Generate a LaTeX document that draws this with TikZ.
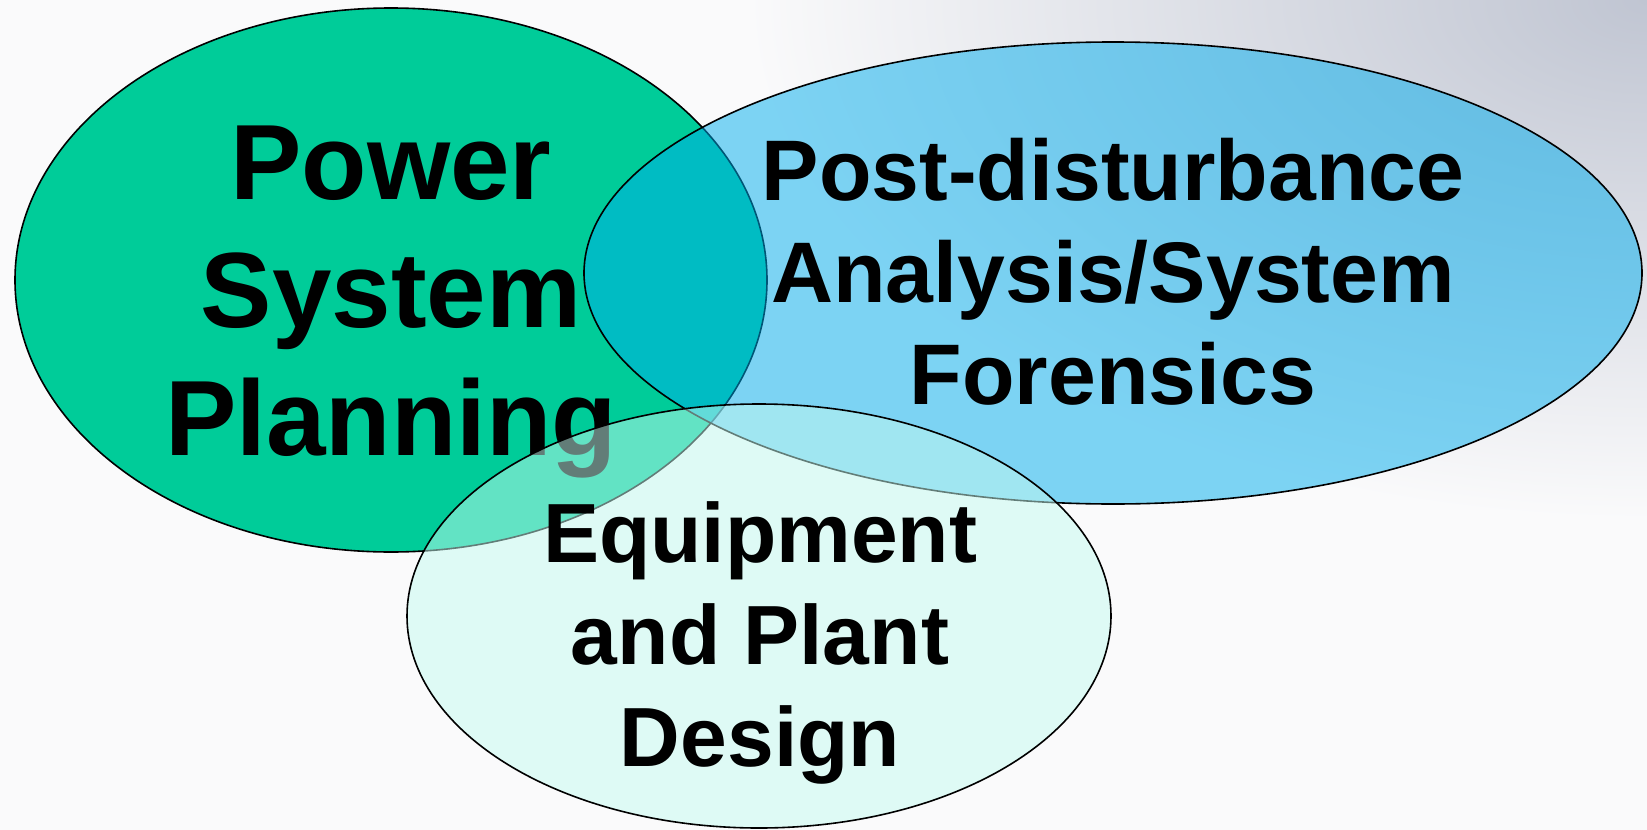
\documentclass[tikz,border=0pt]{standalone}
\usepackage{fontspec}
\setmainfont{Liberation Sans}
\usetikzlibrary{shapes.geometric}
\definecolor{greenfill}{RGB}{0,204,153}
\definecolor{bluefill}{RGB}{0,173,237}
\definecolor{palefill}{RGB}{196,250,240}
\definecolor{bgdark}{RGB}{192,197,210}
\definecolor{bglight}{RGB}{250,250,251}
\begin{document}
\begin{tikzpicture}[x=1pt,y=-1pt,
  ring/.style={ellipse, draw=black, line width=1.6pt, inner sep=0pt},
  txt/.style={align=center, inner sep=0pt, text=black}]
\useasboundingbox (0,0) rectangle (1647,830);
\fill[bglight] (0,0) rectangle (1647,830);
\begin{scope}
  \clip (0,0) rectangle (1647,830);
  \shade[inner color=bgdark, outer color=bglight] (1647,0) ellipse [x radius=900, y radius=520];
\end{scope}
% Power System Planning
\node[ring, fill=greenfill, minimum width=752pt, minimum height=544pt] (plan) at (391,280) {};
\node[txt, font=\fontsize{107}{128}\selectfont\bfseries] (tplan) at (391,302) {Power\\System\\Planning};
% Post-disturbance
\node[ring, fill=bluefill, fill opacity=0.5, minimum width=1058pt, minimum height=462pt] (post) at (1113,273) {};
\node[txt, font=\fontsize{86}{102}\selectfont\bfseries] (tpost) at (1113,272) {Post-disturbance\\Analysis/System\\Forensics};
% Equipment
\node[ring, fill=palefill, fill opacity=0.5, minimum width=704pt, minimum height=424pt] (equip) at (759,616) {};
\node[txt, font=\fontsize{84}{102}\selectfont\bfseries] (tequip) at (760,643) {Equipment\\and Plant\\Design};
\end{tikzpicture}
\end{document}
